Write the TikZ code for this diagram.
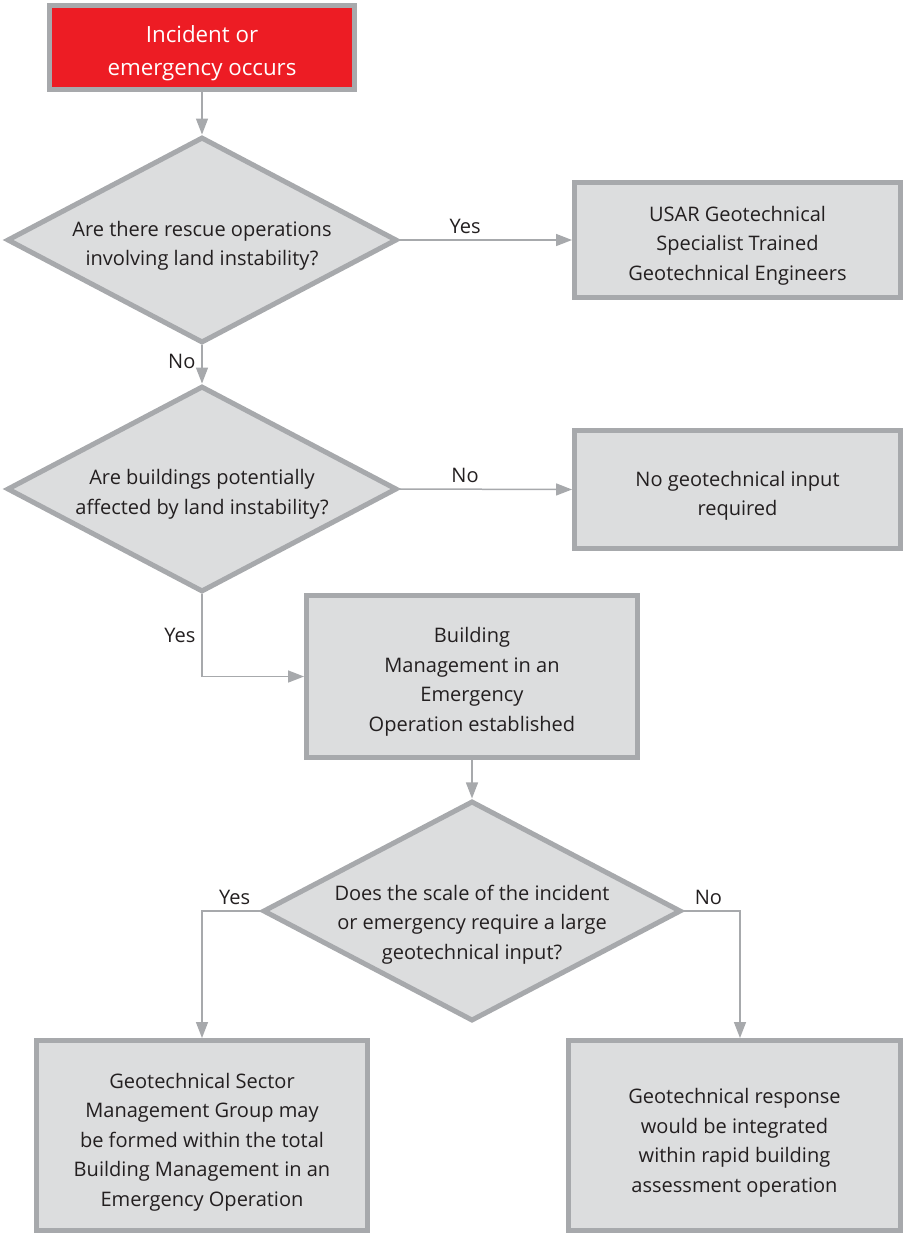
\documentclass[tikz,border=0pt]{standalone}
\usepackage{fontspec}
\setmainfont{Open Sans}
\usepackage{xcolor}
\usepackage{tikz}
\usetikzlibrary{arrows.meta, positioning, shapes.geometric}
\definecolor{edgegray}{HTML}{A7A9AC}
\definecolor{boxfill}{HTML}{DCDDDE}
\definecolor{alertred}{HTML}{ED1C24}
\definecolor{inktext}{HTML}{231F20}

\begin{document}
\begin{tikzpicture}[
  x=0.02cm, y=-0.02cm,
  every node/.style={font=\fontsize{11.4}{16.8}\selectfont, text=inktext},
  box/.style={draw=edgegray, line width=0.1cm, fill=boxfill, align=center,
              inner sep=2pt, minimum width=6.52cm, text depth=0pt},
  startbox/.style={box, fill=alertred, text=white, minimum width=6.1cm,
              minimum height=1.68cm, font=\fontsize{12.7}{18.8}\selectfont},
  qbox/.style={diamond, draw=edgegray, line width=0.1cm, fill=boxfill,
              align=center, inner sep=0pt, aspect=1.9, text depth=0pt},
  arr/.style={-{Triangle[length=0.32cm, width=0.24cm]}, draw=edgegray,
              line width=0.03cm},
]
  \useasboundingbox (0,0) rectangle (906,1235);

  \node[startbox, text height=31.9pt] (inc) at (202,47.5) {Incident or\\emergency occurs};

  \node[qbox, minimum width=7.8cm, minimum height=4.12cm, text height=29.5pt] (q1) at (202,240)
       {Are there rescue operations\\involving land instability?};
  \node[box, minimum height=2.3cm, text height=45.7pt] (usar) at (737.5,240)
       {USAR Geotechnical\\Specialist Trained\\Geotechnical Engineers};

  \node[qbox, minimum width=7.8cm, minimum height=4.12cm, text height=28.5pt] (q2) at (202,489)
       {Are buildings potentially\\affected by land instability?};
  \node[box, minimum height=2.36cm, text height=30pt] (noin) at (737.5,489.5)
       {No geotechnical input\\required};

  \node[box, minimum width=6.62cm, minimum height=3.24cm, text height=62.5pt] (bmeo) at (472,676.5)
       {Building\\Management in an\\Emergency\\Operation established};

  \node[qbox, minimum width=8.15cm, minimum height=4.35cm,
        text height=54.9pt, inner ysep=-6pt] (q3) at (472,911)
       {Does the scale of the incident\\or emergency require a large\\geotechnical input?};

  \node[box, minimum width=6.64cm, minimum height=3.8cm, text height=80.4pt] (gsmg) at (202,1135.5)
       {Geotechnical Sector\\Management Group may\\be formed within the total\\Building Management in an\\Emergency Operation};
  \node[box, minimum width=6.64cm, minimum height=3.8cm, text height=64.8pt] (rba) at (734.5,1135.5)
       {Geotechnical response\\would be integrated\\within rapid building\\assessment operation};

  \draw[arr] (inc) -- (q1);
  \draw[arr] (q1.east) -- node[above, pos=0.38] {Yes} (usar.west);
  \draw[arr] (q1.south) -- node[left, pos=0.42] {No} (q2.north);
  \draw[arr] (q2.east) -- node[above, pos=0.38] {No} (noin.west);
  \draw[arr] (q2.south) |- node[left, pos=0.25] {Yes} (bmeo.west);
  \draw[arr] (bmeo) -- (q3);
  \draw[arr] (q3.west) -| node[above, pos=0.22] {Yes} (gsmg.north);
  \draw[arr] (q3.east) -| node[above, pos=0.22] {No} ([xshift=0.11cm]rba.north);
\end{tikzpicture}
\end{document}
